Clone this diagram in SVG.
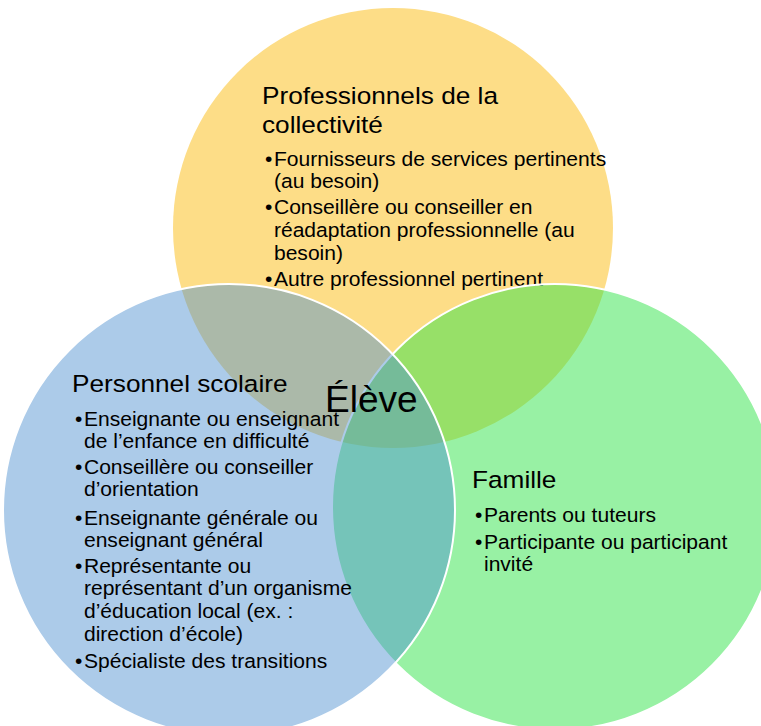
<svg xmlns="http://www.w3.org/2000/svg" width="761" height="726" viewBox="0 0 761 726">
  <style>
    .head { font-family: "Liberation Sans", Arial, sans-serif; font-size: 24.5px; fill: #000; }
    .item { font-family: "Liberation Sans", Arial, sans-serif; font-size: 19.5px; fill: #000; }
    .center { font-family: "Liberation Sans", Arial, sans-serif; font-size: 37px; fill: #000; }
    .c-yellow { fill: #FDDD87; stroke: none; }
    .c-green { fill: rgb(49,227,73); fill-opacity: 0.5; stroke: #FFFFFF; stroke-width: 2; }
    .c-blue { fill: rgb(78,144,208); fill-opacity: 0.47; stroke: #FFFFFF; stroke-width: 2; }
  </style>
  <rect x="0" y="0" width="761" height="726" fill="#FFFFFF"/>

  <g id="node-professionnels">
    <circle class="c-yellow" cx="393" cy="228" r="220"/>
    <g transform="translate(262 0) scale(1.07 1)">
      <text class="head" x="0" y="104">Professionnels de la</text>
      <text class="head" x="0" y="133">collectivité</text>
    </g>
    <g transform="translate(265 0) scale(1.08 1)">
      <text class="item" x="0" y="166">•</text>
      <text class="item" x="8.3" y="166">Fournisseurs de services pertinents</text>
      <text class="item" x="8.3" y="188.5">(au besoin)</text>
      <text class="item" x="0" y="214.5">•</text>
      <text class="item" x="8.3" y="214.5">Conseillère ou conseiller en</text>
      <text class="item" x="8.3" y="237.5">réadaptation professionnelle (au</text>
      <text class="item" x="8.3" y="260">besoin)</text>
      <text class="item" x="0" y="286.5">•</text>
      <text class="item" x="8.3" y="286.5">Autre professionnel pertinent</text>
    </g>
  </g>

  <g id="node-famille">
    <circle class="c-green" cx="555" cy="507" r="223"/>
    <g transform="translate(472 0) scale(1.07 1)">
      <text class="head" x="0" y="488">Famille</text>
    </g>
    <g transform="translate(475 0) scale(1.08 1)">
      <text class="item" x="0" y="522.5">•</text>
      <text class="item" x="8.3" y="522.5">Parents ou tuteurs</text>
      <text class="item" x="0" y="549">•</text>
      <text class="item" x="8.3" y="549">Participante ou participant</text>
      <text class="item" x="8.3" y="571">invité</text>
    </g>
  </g>

  <g id="node-personnel">
    <circle class="c-blue" cx="229" cy="510" r="226"/>
    <g transform="translate(72 0) scale(1.07 1)">
      <text class="head" x="0" y="392">Personnel scolaire</text>
    </g>
    <g transform="translate(75 0) scale(1.08 1)">
      <text class="item" x="0" y="426">•</text>
      <text class="item" x="8.3" y="426">Enseignante ou enseignant</text>
      <text class="item" x="8.3" y="448">de l’enfance en difficulté</text>
      <text class="item" x="0" y="474">•</text>
      <text class="item" x="8.3" y="474">Conseillère ou conseiller</text>
      <text class="item" x="8.3" y="496.5">d’orientation</text>
      <text class="item" x="0" y="525">•</text>
      <text class="item" x="8.3" y="525">Enseignante générale ou</text>
      <text class="item" x="8.3" y="547">enseignant général</text>
      <text class="item" x="0" y="573">•</text>
      <text class="item" x="8.3" y="573">Représentante ou</text>
      <text class="item" x="8.3" y="595">représentant d’un organisme</text>
      <text class="item" x="8.3" y="618">d’éducation local (ex. :</text>
      <text class="item" x="8.3" y="641.5">direction d’école)</text>
      <text class="item" x="0" y="668">•</text>
      <text class="item" x="8.3" y="668">Spécialiste des transitions</text>
    </g>
  </g>

  <g id="node-eleve">
    <text class="center" x="325" y="412">Élève</text>
  </g>
</svg>
